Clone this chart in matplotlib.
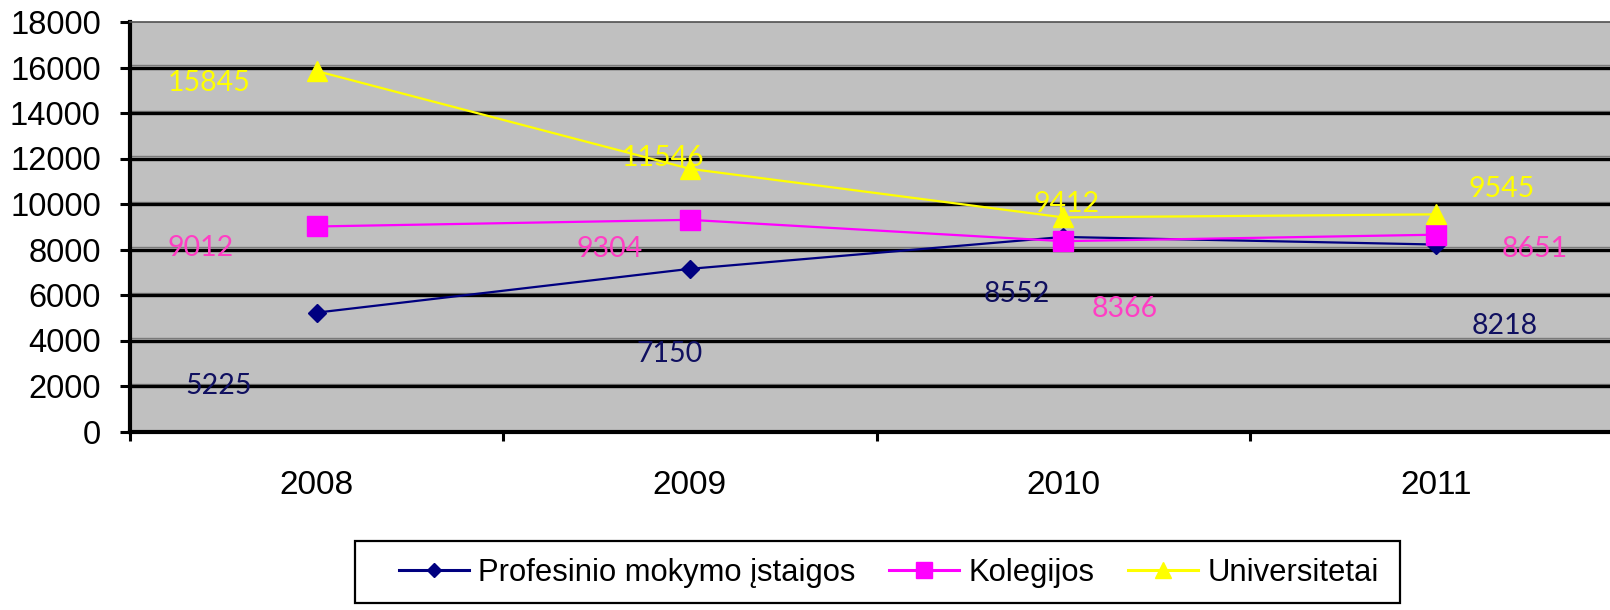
import matplotlib
matplotlib.use("Agg")
import matplotlib.pyplot as plt
import matplotlib.lines as mlines
from matplotlib.patches import Rectangle
from matplotlib.transforms import offset_copy

# ------------------------------------------------------------------
# Data
# ------------------------------------------------------------------
years = ["2008", "2009", "2010", "2011"]
profesinio = [5225, 7150, 8552, 8218]
kolegijos = [9012, 9304, 8366, 8651]
universitetai = [15845, 11546, 9412, 9545]

# label offsets (pixels, right / down) - placed by hand in the original
prof_off = [(-98, 70), (-20, 82), (-46, 54), (68, 78)]
kol_off = [(-116, 19), (-80, 26), (62, 65), (98, 11)]
uni_off = [(-108, 9), (-27, -14), (3, -16), (65, -28)]

plt.rcParams["font.family"] = ["Liberation Sans", "DejaVu Sans"]

fig = plt.figure(figsize=(16.1, 6.1), dpi=100)
W, H = 1610, 610
ax = fig.add_axes([130 / W, 178.5 / H, 1493 / W, 409.5 / H])
ax.set_facecolor("#C0C0C0")
ax.set_xlim(-0.5, 3.5)
ax.set_ylim(0, 18000)

# gridlines with a grey shadow line just above
grid_y = list(range(2000, 18000, 2000))
shadow = offset_copy(ax.get_yaxis_transform(), fig=fig, y=2.5, units="dots")
ax.hlines(grid_y, 0, 1, transform=shadow, color="#7a7a7a", lw=1.0, zorder=1)
ax.hlines(grid_y, 0, 1, transform=ax.get_yaxis_transform(), color="black", lw=2.4, zorder=1.1)

ax.spines["right"].set_visible(False)
ax.spines["top"].set_color("#505050")
ax.spines["top"].set_linewidth(1.2)
ax.spines["left"].set_linewidth(3)
ax.spines["bottom"].set_linewidth(3)

x = list(range(len(years)))
series = [
    (profesinio, "Profesinio mokymo įstaigos", "#000080", "D", 9, "#101060", prof_off),
    (kolegijos, "Kolegijos", "#FF00FF", "s", 14, "#FF3EC4", kol_off),
    (universitetai, "Universitetai", "#FFFF00", "^", 14, "#FFFF00", uni_off),
]
handles = []
for vals, name, col, mk, ms, lcol, offs in series:
    ax.plot(x, vals, color=col, lw=1.6, marker=mk, ms=ms, mec=col, mfc=col, zorder=3)
    for xi, v, (dx, dy) in zip(x, vals, offs):
        ax.annotate(str(v), (xi, v), xytext=(dx, -dy - 3), textcoords="offset pixels",
                    ha="center", va="center", color=lcol, fontsize=20.5, family="Lato", zorder=4)
    handles.append(mlines.Line2D([], [], color=col, lw=2.2, marker=mk, ms=ms * 0.8,
                                 mec=col, mfc=col, label=name))

# axes ticks
ax.set_yticks(range(0, 18001, 2000))
ax.tick_params(axis="y", length=7, width=2.2, pad=14, labelsize=23.5)
ax.set_xticks([-0.5, 0.5, 1.5, 2.5, 3.5])
ax.set_xticklabels([])
ax.tick_params(axis="x", which="major", length=6.5, width=2.2)
ax.set_xticks(x, minor=True)
ax.set_xticklabels(years, minor=True)
ax.tick_params(axis="x", which="minor", length=0, pad=28, labelsize=24)

# legend with hand-drawn frame
fig.patches.append(Rectangle((355 / W, 7 / H), 1045 / W, 62 / H, transform=fig.transFigure,
                             fill=False, edgecolor="black", lw=1.6))
fig.legend(handles=handles, loc="center left", bbox_to_anchor=(399 / W, 1 - 573 / H),
           ncol=3, frameon=False, fontsize=22.3, handlelength=2.25, handletextpad=0.3,
           columnspacing=1.1, borderpad=0, borderaxespad=0)

fig.savefig("out.png", dpi=100)
